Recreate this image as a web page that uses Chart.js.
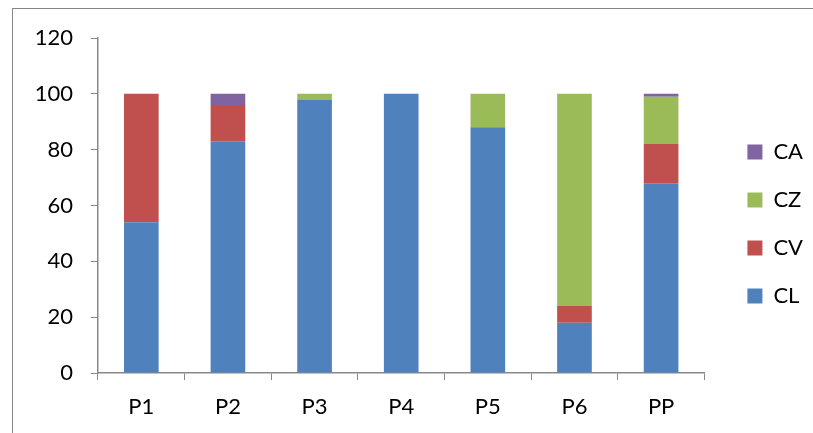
<!DOCTYPE html>
<html>
<head>
<meta charset="utf-8">
<script src="https://cdn.jsdelivr.net/npm/chart.js@4/dist/chart.umd.min.js"></script>
<style>
    html, body { margin: 0; padding: 0; background: #fff; overflow: hidden; }
    #frame {
        position: absolute; left: 12px; top: 8px;
        width: 900px; height: 500px;
        border-left: 1px solid #868686; border-top: 1px solid #868686;
    }
    #chart { position: absolute; left: 0; top: 0; }
</style>
</head>
<body>
<div id="frame"></div>
<canvas id="chart" width="813" height="433"></canvas>
<script>
const categories = ["P1", "P2", "P3", "P4", "P5", "P6", "PP"];

const cl = [54, 83, 98, 100, 88, 18, 68];
const cv = [46, 13, 0, 0, 0, 6, 14];
const cz = [0, 0, 2, 0, 12, 76, 17];
const ca = [0, 4, 0, 0, 0, 0, 1];

const yTicks = [0, 20, 40, 60, 80, 100, 120];

const FONT = { family: "Lato", size: 22 };
const AXIS_GREY = "#888888";

// legend sits a bit away from the plot and a bit higher than the default centring
const legendPlace = {
    id: "legendPlace",
    beforeInit(chart) {
        const fit = chart.legend.fit;
        chart.legend.fit = function () {
            fit.call(this);
            this.width += 17;
        };
    },
    afterLayout(chart) {
        chart.legend.left += 17;
        chart.legend.bottom -= 23;
    }
};

new Chart(document.getElementById("chart"), {
    type: "bar",
    data: {
        labels: categories,
        datasets: [
            { label: "CL", data: cl, backgroundColor: "#4F81BD" },
            { label: "CV", data: cv, backgroundColor: "#C0504D" },
            { label: "CZ", data: cz, backgroundColor: "#9BBB59" },
            { label: "CA", data: ca, backgroundColor: "#8064A2" }
        ]
    },
    options: {
        responsive: false,
        animation: false,
        datasets: { bar: { barPercentage: 0.4, categoryPercentage: 1, borderWidth: 0 } },
        layout: { padding: { left: 12, top: 38, bottom: 0, right: 0 } },
        plugins: {
            tooltip: { enabled: false },
            legend: {
                position: "right",
                reverse: true,
                labels: {
                    font: FONT,
                    color: "#000",
                    boxWidth: 15,
                    boxHeight: 15,
                    padding: 26
                }
            }
        },
        scales: {
            x: {
                stacked: true,
                grid: { drawOnChartArea: false, drawTicks: true, tickLength: 7, color: AXIS_GREY, offset: true },
                border: { color: AXIS_GREY, width: 1.5 },
                ticks: { font: FONT, color: "#000", padding: 14, maxRotation: 0 },
                afterFit(scale) { scale.height = 60; }
            },
            y: {
                stacked: true,
                min: 0,
                max: 120,
                afterBuildTicks(scale) { scale.ticks = yTicks.map(v => ({ value: v })); },
                grid: { drawOnChartArea: false, drawTicks: true, tickLength: 7, color: AXIS_GREY },
                border: { color: AXIS_GREY, width: 1.5 },
                ticks: { font: FONT, color: "#000", padding: 18 },
                afterFit(scale) { scale.width = 86; }
            }
        }
    },
    plugins: [legendPlace]
});
</script>
</body>
</html>
